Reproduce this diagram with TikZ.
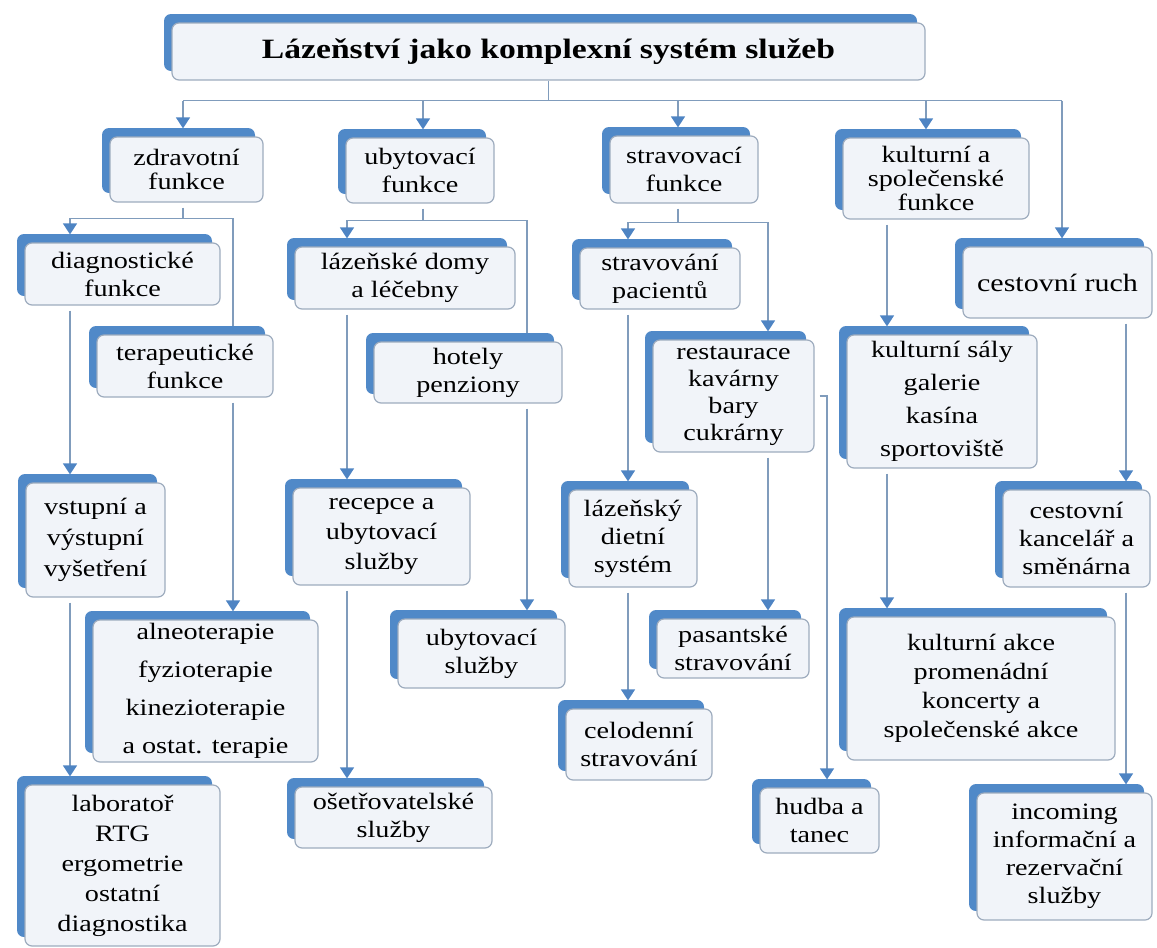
\documentclass[tikz,border=0pt]{standalone}
\usepackage{fontspec}
\setmainfont{Liberation Serif}[FakeStretch=1.2]
\usetikzlibrary{arrows.meta,shadows,backgrounds}
\definecolor{backblue}{RGB}{80,137,200}
\definecolor{tipblue}{RGB}{78,132,195}
\definecolor{edgegray}{RGB}{158,172,190}
\definecolor{facefill}{RGB}{241,244,249}
\definecolor{linkgray}{RGB}{128,156,188}
\tikzset{
    cbox/.style={draw=edgegray, line width=1.2pt, fill=facefill, rounded corners=7pt,
        inner sep=0pt, align=center, font=\fontsize{23.5}{28}\selectfont,
        general shadow={fill=backblue, shadow xshift=-8pt, shadow yshift=9pt}},
    headbox/.style={cbox, font=\bfseries\fontsize{28}{32}\selectfont},
    lead/.style={font=\fontsize{23.5}{#1}\selectfont},
    conn/.style={draw=linkgray, line width=1.3pt},
    connarr/.style={conn, -{Triangle[width=14pt,length=11pt,color=tipblue]}, shorten >=8pt},
    fromgap/.style={shorten <=5pt}
}
\begin{document}
\begin{tikzpicture}[x=1pt, y=-1pt]
    \useasboundingbox (0,0) rectangle (1157,948);
    \node[headbox, minimum width=753pt, minimum height=57pt] (top) at (548.5,51.5) {Lázeňství jako komplexní systém služeb};

    \node[cbox, lead=24, minimum width=153pt, minimum height=65pt] (zdr) at (186.5,169.5) {zdravotní\\funkce};
    \node[cbox, minimum width=148pt, minimum height=65pt] (uby) at (420,170.5) {ubytovací\\funkce};
    \node[cbox, minimum width=148pt, minimum height=67pt] (str) at (684,169.5) {stravovací\\funkce};
    \node[cbox, lead=24, minimum width=186pt, minimum height=81pt] (kul) at (936,178.5) {kulturní a\\společenské\\funkce};
    \node[cbox, font=\fontsize{25}{28}\selectfont, minimum width=189pt, minimum height=71pt] (ces) at (1057.5,282.5) {cestovní ruch};

    \node[cbox, minimum width=195pt, minimum height=62pt] (diag) at (122.5,274) {diagnostické\\funkce};
    \node[cbox, minimum width=176pt, minimum height=62pt] (tera) at (185,366) {terapeutické\\funkce};
    \node[cbox, lead=31, minimum width=139pt, minimum height=114pt] (vstup) at (95.5,540) {vstupní a\\výstupní\\vyšetření};
    \node[cbox, lead=38, minimum width=225pt, minimum height=142pt] (alneo) at (205.5,691) {alneoterapie\\fyzioterapie\\kinezioterapie\\a ostat. terapie};
    \node[cbox, lead=30, minimum width=195pt, minimum height=161pt] (lab) at (122.5,865.5) {laboratoř\\RTG\\ergometrie\\ostatní\\diagnostika};

    \node[cbox, minimum width=220pt, minimum height=62pt] (domy) at (405,278) {lázeňské domy\\a léčebny};
    \node[cbox, minimum width=188pt, minimum height=61pt] (hotely) at (468,372.5) {hotely\\penziony};
    \node[cbox, lead=30, minimum width=177pt, minimum height=97pt] (recep) at (381.5,536.5) {recepce a\\ubytovací\\služby};
    \node[cbox, minimum width=167pt, minimum height=69pt] (ubsl) at (481.5,653.5) {ubytovací\\služby};
    \node[cbox, minimum width=197pt, minimum height=61pt] (oset) at (393.5,817.5) {ošetřovatelské\\služby};

    \node[cbox, minimum width=160pt, minimum height=61pt] (pac) at (660,278.5) {stravování\\pacientů};
    \node[cbox, lead=27, minimum width=161pt, minimum height=112pt] (rest) at (733.5,396) {restaurace\\kavárny\\bary\\cukrárny};
    \node[cbox, minimum width=128pt, minimum height=97pt] (diet) at (633,538.5) {lázeňský\\dietní\\systém};
    \node[cbox, minimum width=152pt, minimum height=59pt] (pas) at (733,648.5) {pasantské\\stravování};
    \node[cbox, minimum width=146pt, minimum height=71pt] (celo) at (639,744.5) {celodenní\\stravování};
    \node[cbox, minimum width=119pt, minimum height=65pt] (hudba) at (819.5,820.5) {hudba a\\tanec};

    \node[cbox, lead=33, minimum width=190pt, minimum height=133pt] (sal) at (942,401.5) {kulturní sály\\galerie\\kasína\\sportoviště};
    \node[cbox, lead=29, minimum width=268pt, minimum height=143pt] (akce) at (981,688.5) {kulturní akce\\promenádní\\koncerty a\\společenské akce};
    \node[cbox, minimum width=147pt, minimum height=97pt] (kanc) at (1076.5,538.5) {cestovní\\kancelář a\\směnárna};
    \node[cbox, minimum width=175pt, minimum height=127pt] (inco) at (1064.5,856.5) {incoming\\informační a\\rezervační\\služby};

    \foreach \p/\x in {t1/183, t2/423, t3/678, t4/926, t5/1062, c1a/70, c1b/233, c2a/347, c2b/527,
            c3a/628, c3b/768, c3c/827, c4/887, c5/1126} {
        \coordinate (\p) at (\x,0);
    };

    \begin{scope}[on background layer]
        \draw[conn] (top.south) -- ++(0,20) coordinate (bus);
        \draw[conn] (bus -| t1) -- (bus -| t5);
        \foreach \t/\b in {t1/zdr, t2/uby, t3/str, t4/kul, t5/ces} {
            \draw[connarr] (bus -| \t) -- (\b.north -| \t);
        };

        \draw[conn, fromgap] (zdr.south -| t1) -- ++(0,16) coordinate (j1);
        \draw[connarr] (j1) -| (diag.north -| c1a);
        \draw[conn] (j1) -| (tera.north -| c1b);
        \draw[connarr, fromgap] (diag.south -| c1a) -- (vstup.north -| c1a);
        \draw[connarr, fromgap] (tera.south -| c1b) -- (alneo.north -| c1b);
        \draw[connarr, fromgap] (vstup.south -| c1a) -- (lab.north -| c1a);

        \draw[conn, fromgap] (uby.south -| t2) -- ++(0,17) coordinate (j2);
        \draw[connarr] (j2) -| (domy.north -| c2a);
        \draw[conn] (j2) -| (hotely.north -| c2b);
        \draw[connarr, fromgap] (domy.south -| c2a) -- (recep.north -| c2a);
        \draw[connarr, fromgap] (hotely.south -| c2b) -- (ubsl.north -| c2b);
        \draw[connarr, fromgap] (recep.south -| c2a) -- (oset.north -| c2a);

        \draw[conn, fromgap] (str.south -| t3) -- ++(0,19) coordinate (j3);
        \draw[connarr] (j3) -| (pac.north -| c3a);
        \draw[connarr] (j3) -| (rest.north -| c3b);
        \draw[connarr, fromgap] (pac.south -| c3a) -- (diet.north -| c3a);
        \draw[connarr, fromgap] (rest.south -| c3b) -- (pas.north -| c3b);
        \draw[connarr, fromgap] (diet.south -| c3a) -- (celo.north -| c3a);
        \draw[connarr, fromgap] (rest.east) -| (hudba.north -| c3c);

        \draw[connarr, fromgap] (kul.south -| c4) -- (sal.north -| c4);
        \draw[connarr, fromgap] (sal.south -| c4) -- (akce.north -| c4);

        \draw[connarr, fromgap] (ces.south -| c5) -- (kanc.north -| c5);
        \draw[connarr, fromgap] (kanc.south -| c5) -- (inco.north -| c5);
    \end{scope}
\end{tikzpicture}
\end{document}
